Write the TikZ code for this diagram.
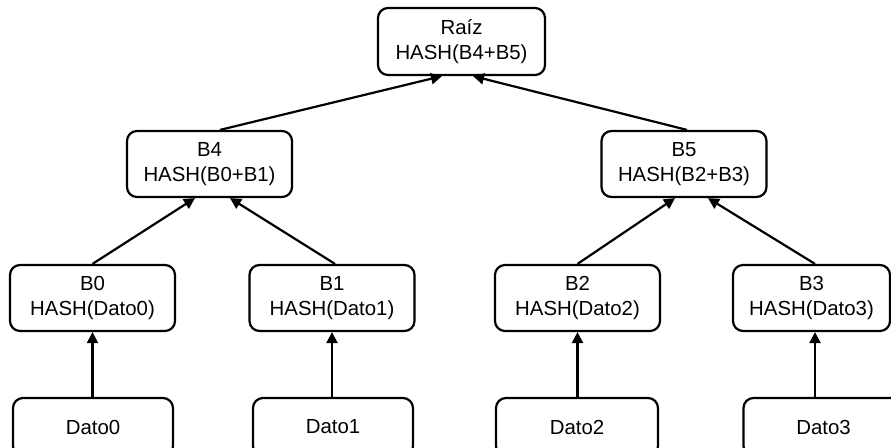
\documentclass[tikz,border=0pt]{standalone}
\usepackage{fontspec}
\setmainfont{Liberation Sans}
\usetikzlibrary{arrows.meta}

\begin{document}
\begin{tikzpicture}[
  hashbox/.style={draw, line width=1.25pt, rounded corners=0.2cm, align=center,
    minimum width=3.3cm, minimum height=1.32cm, inner sep=0pt,
    font=\fontsize{11.6}{14.6}\selectfont},
  arr/.style={line width=1.25pt, -{Triangle[length=2.2mm,width=2.2mm]}}]
\useasboundingbox (0,0) rectangle (17.82,8.94);
% niveles del arbol
\node[hashbox, minimum width=3.34cm, minimum height=1.34cm] (raiz) at (9.23,8.11) {Raíz\\HASH(B4+B5)};
\node[hashbox] (b4) at (4.19,5.66) {B4\\HASH(B0+B1)};
\node[hashbox] (b5) at (13.68,5.66) {B5\\HASH(B2+B3)};
\node[hashbox] (b0) at (1.85,2.98) {B0\\HASH(Dato0)};
\node[hashbox] (b1) at (6.64,2.98) {B1\\HASH(Dato1)};
\node[hashbox] (b2) at (11.55,2.98) {B2\\HASH(Dato2)};
\node[hashbox, minimum width=3.14cm] (b3) at (16.23,2.98) {B3\\HASH(Dato3)};
\node[hashbox, minimum width=3.2cm, minimum height=1.16cm] (dato0) at (1.86,0.40) {Dato0};
\node[hashbox, minimum width=3.2cm, minimum height=1.16cm] (dato1) at (6.66,0.40) {Dato1};
\node[hashbox, minimum width=3.24cm, minimum height=1.16cm] (dato2) at (11.54,0.40) {Dato2};
\node[hashbox, minimum width=3.2cm, minimum height=1.16cm] (dato3) at (16.47,0.40) {Dato3};
% flechas
\draw[arr] ([xshift=0.21cm]b4.north) -- ([xshift=-0.39cm]raiz.south);
\draw[arr] ([xshift=0.06cm]b5.north) -- ([xshift=0.23cm]raiz.south);
\draw[arr] (b0.north) -- ([xshift=-0.29cm]b4.south);
\draw[arr] ([xshift=0.06cm]b1.north) -- ([xshift=0.41cm]b4.south);
\draw[arr] (b2.north) -- ([xshift=-0.18cm]b5.south);
\draw[arr] ([xshift=0.07cm]b3.north) -- ([xshift=0.48cm]b5.south);
\draw[arr] (dato0.north -| b0.south) -- (b0.south);
\draw[arr] (dato1.north -| b1.south) -- (b1.south);
\draw[arr] (dato2.north -| b2.south) -- (b2.south);
\draw[arr] ([xshift=0.07cm]dato3.north -| b3.south) -- ([xshift=0.07cm]b3.south);
\end{tikzpicture}
\end{document}
